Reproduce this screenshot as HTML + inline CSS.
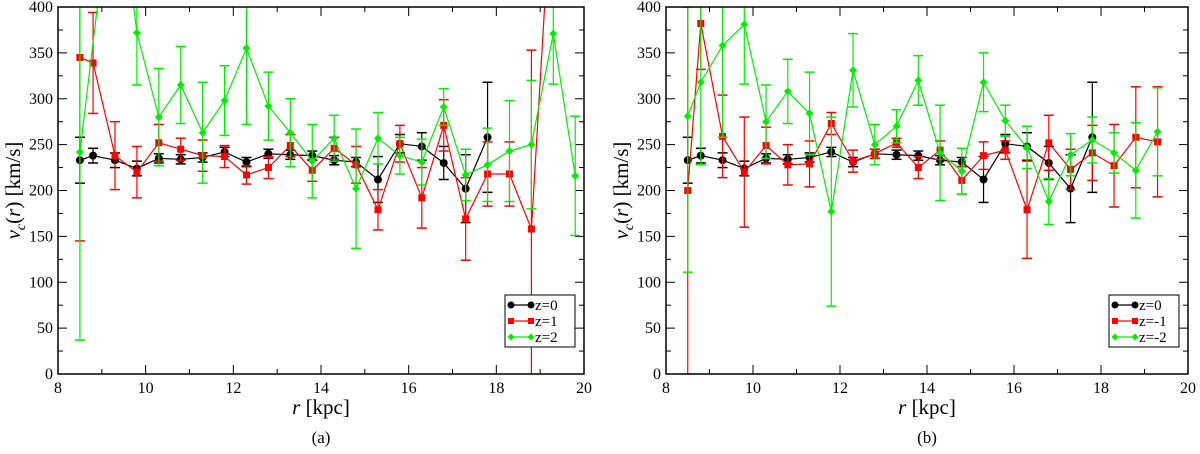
<!DOCTYPE html>
<html><head><meta charset="utf-8"><style>
html,body{margin:0;padding:0;background:#fff;}
svg{display:block;font-family:"Liberation Serif",serif;}
</style></head><body>
<svg id="s" width="1200" height="454" viewBox="0 0 1200 454"></svg>
<script>
const rvals=[8.5,8.8,9.3,9.8,10.3,10.8,11.3,11.8,12.3,12.8,13.3,13.8,14.3,14.8,15.3,15.8,16.3,16.8,17.3,17.8,18.3,18.8,19.3,19.8];
const z0v=[233,238,233,224,235,234,236,242,231,240,239,238,233,231,212,251,248,230,202,258];
const z0e=[25,8,8,8,5,5,5,5,5,5,5,5,5,5,25,10,15,18,37,60];
const z1v=[345,339,238,220,252,245,238,237,217,225,249,222,246,228,179,251,192,271,169,218,218,158,560];
const z1e=[200,55,37,28,20,12,17,12,10,12,12,12,12,20,22,20,33,28,45,35,35,195,0];
const z2r=[8.5,9.3,9.8,10.3,10.8,11.3,11.8,12.3,12.8,13.3,13.8,14.3,14.8,15.3,15.8,16.3,16.8,17.3,17.8,18.3,18.8,19.3,19.8];
const z2v=[242,560,372,280,315,263,298,355,292,263,232,257,202,257,238,231,291,217,228,243,250,371,216];
const z2e=[205,0,57,53,42,55,38,83,37,37,40,25,65,28,20,25,20,28,40,55,70,55,65];
const zm1v=[200,382,259,220,249,228,229,273,232,240,252,225,244,211,238,244,179,252,223,241,227,258,253];
const zm1e=[200,50,45,60,20,22,25,12,12,5,5,12,10,15,15,10,53,30,22,30,45,55,60];
const zm2v=[281,318,358,381,275,308,284,177,331,250,270,320,241,221,318,276,247,188,239,255,241,222,264];
const zm2e=[170,90,100,65,40,35,45,103,40,22,18,27,52,25,32,17,23,25,23,25,22,52,48];
const xTicks=[8,10,12,14,16,18,20];
const yTicks=[0,50,100,150,200,250,300,350,400];
const NS="http://www.w3.org/2000/svg";
const svg=document.getElementById('s');
function mk(t,a,p){const e=document.createElementNS(NS,t);for(const k in a)e.setAttribute(k,a[k]);(p||svg).appendChild(e);return e;}
function panel(x0,x1,lab,series,legendLabels,id){
  const y0=7,y1=374;
  const X=v=>x0+(v-8)/12*(x1-x0), Y=v=>y1-v/400*(y1-y0);
  const g=mk('g',{});
  
  
  const cp=mk('clipPath',{id:'c'+id},g);mk('rect',{x:x0,y:y0,width:x1-x0,height:y1-y0},cp);
  const ax=mk('g',{},g);
  
  
  for(let v=8;v<=20;v+=1){const L=v%2?5:9;const px=X(v);
    mk('line',{x1:px,y1:y1,x2:px,y2:y1-L,stroke:'#000'},ax);mk('line',{x1:px,y1:y0,x2:px,y2:y0+L,stroke:'#000'},ax);}
  for(let v=0;v<=400;v+=25){const L=v%50?5:9;const py=Y(v);
    mk('line',{x1:x0,y1:py,x2:x0+L,y2:py,stroke:'#000'},ax);mk('line',{x1:x1,y1:py,x2:x1-L,y2:py,stroke:'#000'},ax);}
  xTicks.forEach(v=>{const t=mk('text',{x:X(v),y:393,'text-anchor':'middle','font-size':16},ax);t.textContent=v;
    });
  yTicks.forEach(v=>{const t=mk('text',{x:x0-5,y:Y(v)+5,'text-anchor':'end','font-size':16},ax);t.textContent=v;
    });
  const xt=mk('text',{x:(x0+x1)/2,y:414,'text-anchor':'middle','font-size':21},ax);
  xt.innerHTML='<tspan font-style="italic">r</tspan> [kpc]';
  
  const yt=mk('text',{x:0,y:0,'text-anchor':'middle','font-size':21,transform:`translate(${x0-38},${(y0+y1)/2}) rotate(-90)`},ax);
  yt.innerHTML='<tspan font-style="italic">v</tspan><tspan font-style="italic" font-size="14" dy="5">c</tspan><tspan dy="-5">(</tspan><tspan font-style="italic">r</tspan>)  [km/s]';
  
  const cap=mk('text',{x:(x0+x1)/2,y:443,'text-anchor':'middle','font-size':17},ax);cap.textContent=lab;
  
  series.forEach(s=>{
    const sg=mk('g',{'clip-path':`url(#c${id})`},g);
    
    
    let pts=s.v.map((v,i)=>X(s.r[i])+','+Y(v)).join(' ');
    mk('polyline',{points:pts,fill:'none',stroke:s.c,'stroke-width':1.2},sg);
    s.v.forEach((v,i)=>{const px=X(s.r[i]),e=s.e[i];
      if(e>0){mk('line',{x1:px,y1:Y(v-e),x2:px,y2:Y(v+e),stroke:s.c,'stroke-width':1.2},sg);
        [v-e,v+e].forEach(w=>mk('line',{x1:px-5,y1:Y(w),x2:px+5,y2:Y(w),stroke:s.c,'stroke-width':1.5},sg));}
      let m;
      if(s.m==='c')m=mk('circle',{cx:px,cy:Y(v),r:4,fill:s.c},sg);
      else if(s.m==='s')m=mk('rect',{x:px-3.5,y:Y(v)-3.5,width:7,height:7,fill:s.c},sg);
      else m=mk('polygon',{points:`${px},${Y(v)-4} ${px+4},${Y(v)} ${px},${Y(v)+4} ${px-4},${Y(v)}`,fill:s.c},sg);
      });
  });
  mk('rect',{x:x0,y:y0,width:x1-x0,height:y1-y0,fill:'none',stroke:'#000','stroke-width':1.5},g);
  const lx=x1-79, ly=295;
  const lg=mk('g',{},g);
  mk('rect',{x:lx,y:ly,width:70,height:52,fill:'#fff',stroke:'#000'},lg);
  series.forEach((s,i)=>{const yy=ly+10+i*16;
    mk('line',{x1:lx+6,y1:yy,x2:lx+26,y2:yy,stroke:s.c,'stroke-width':1.2},lg);
    [lx+6,lx+26].forEach(px=>{ if(s.m==='c')mk('circle',{cx:px,cy:yy,r:3.5,fill:s.c},lg);
      else if(s.m==='s')mk('rect',{x:px-3,y:yy-3,width:6,height:6,fill:s.c},lg);
      else mk('polygon',{points:`${px},${yy-3.5} ${px+3.5},${yy} ${px},${yy+3.5} ${px-3.5},${yy}`,fill:s.c},lg);});
    const t=mk('text',{x:lx+30,y:yy+5,'font-size':15},lg);t.textContent=legendLabels[i];
    });
}
const K='#000',R='#ff0000',G='#00ee00';
panel(58,584,'(a)',[
 {name:'z0',r:rvals,v:z0v,e:z0e,c:K,m:'c'},
 {name:'z1',r:rvals,v:z1v,e:z1e,c:R,m:'s'},
 {name:'z2',r:z2r,v:z2v,e:z2e,c:G,m:'d'}],['z=0','z=1','z=2'],'a');
panel(666,1188,'(b)',[
 {name:'z0',r:rvals,v:z0v,e:z0e,c:K,m:'c'},
 {name:'zm1',r:rvals,v:zm1v,e:zm1e,c:R,m:'s'},
 {name:'zm2',r:rvals,v:zm2v,e:zm2e,c:G,m:'d'}],['z=0','z=-1','z=-2'],'b');
</script>
</body></html>
